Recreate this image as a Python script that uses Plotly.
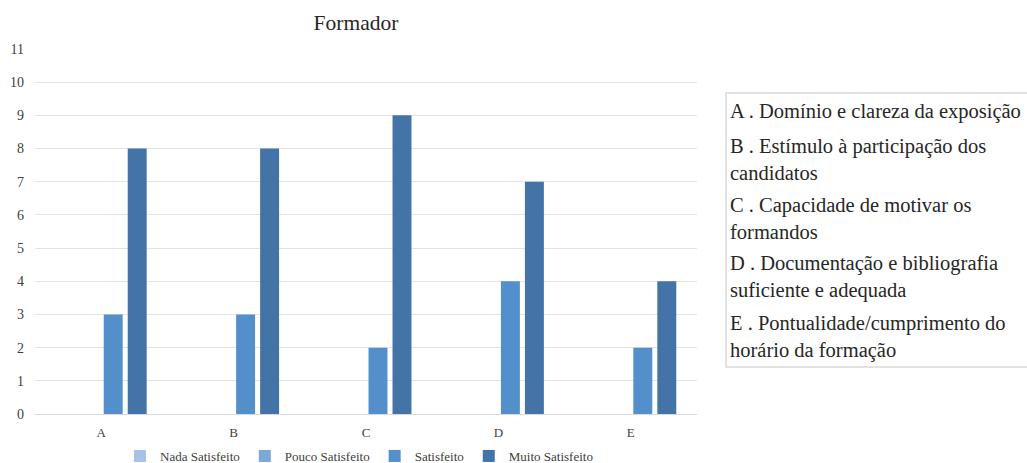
import plotly.graph_objects as go

W, H = 1027, 463

categories = ["A", "B", "C", "D", "E"]
series_names = ["Nada Satisfeito", "Pouco Satisfeito", "Satisfeito", "Muito Satisfeito"]
nada = [0, 0, 0, 0, 0]
pouco = [0, 0, 0, 0, 0]
satisfeito = [3, 3, 2, 4, 2]
muito = [8, 8, 9, 7, 4]
series_colors = ["#a7c3e3", "#7ba8d9", "#5390cb", "#4474a7"]

key_items = [
    "A . Domínio e clareza da exposição",
    "B . Estímulo à participação dos<br>candidatos",
    "C . Capacidade de motivar os<br>formandos",
    "D . Documentação e bibliografia<br>suficiente e adequada",
    "E . Pontualidade/cumprimento do<br>horário da formação",
]
key_item_tops = [98, 133, 192, 250, 310]

FONT = "'Liberation Serif', 'DejaVu Serif', serif"

fig = go.Figure()
for name, vals, col in zip(series_names, [nada, pouco, satisfeito, muito], series_colors):
    fig.add_trace(go.Bar(x=categories, y=vals, name=name, marker=dict(color=col, line=dict(width=0))))

def px_x(v):
    return v / W

def px_y(v):
    return 1 - v / H

fig.update_layout(
    width=W, height=H,
    margin=dict(l=0, r=0, t=0, b=0, autoexpand=False),
    paper_bgcolor="white", plot_bgcolor="white",
    font=dict(family=FONT, color="#404040", size=13),
    barmode="group", bargap=0.275, bargroupgap=0.21,
    title=dict(text="Formador", x=px_x(356), xanchor="center", y=px_y(22), yanchor="middle",
               font=dict(family=FONT, size=21.5, color="#262626")),
    xaxis=dict(domain=[px_x(35), px_x(697)], showgrid=False, showline=True, linecolor="#d9d9d9",
               ticks="", tickfont=dict(family=FONT, size=13, color="#404040"), ticklabelstandoff=6,
               automargin=False),
    yaxis=dict(domain=[px_y(414), px_y(49)], range=[0, 11], dtick=1, showgrid=True,
               gridcolor="#e3e3e3", gridwidth=1, zeroline=False, showline=False,
               ticks="", tickfont=dict(family=FONT, size=14, color="#404040"), ticklabelstandoff=10,
               automargin=False),
    legend=dict(orientation="h", x=px_x(359), xanchor="center", y=-8 / H, yanchor="bottom",
                bgcolor="rgba(0,0,0,0)",
                font=dict(family=FONT, size=13, color="#404040"), itemwidth=30, traceorder="normal"),
    showlegend=True,
)

# framed key for the category letters
fig.add_shape(type="rect", xref="paper", yref="paper",
              x0=px_x(726), x1=px_x(1040), y0=px_y(367), y1=px_y(93),
              line=dict(color="#d9d9d9", width=1.5), fillcolor="white", layer="below")
for txt, top in zip(key_items, key_item_tops):
    fig.add_annotation(text=txt, xref="paper", yref="paper", x=px_x(728), y=px_y(top),
                       xanchor="left", yanchor="top", align="left", showarrow=False,
                       font=dict(family=FONT, size=20.5, color="#262626"))

fig.write_html("out.html")
